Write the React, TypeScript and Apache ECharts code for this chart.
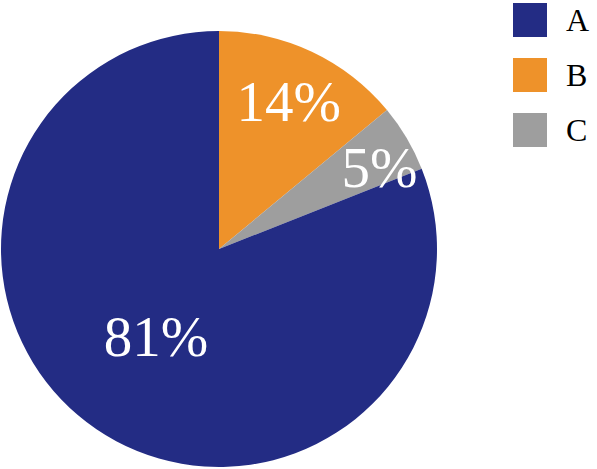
import React, { useEffect, useRef } from "react";
import * as echarts from "echarts";

const categories = ["B", "C", "A"];
const values = [14, 5, 81];
const legendOrder = ["A", "B", "C"];
const colors: Record<string, string> = { A: "#232C84", B: "#EE922A", C: "#9E9E9E" };
const labelOffsets: Record<string, number[]> = { B: [22, -46], C: [64, -24], A: [0, -5] };
const serif = "'Liberation Serif', 'Times New Roman', serif";

export default function App() {
  const ref = useRef<HTMLDivElement>(null);
  useEffect(() => {
    document.body.style.margin = "0";
    const chart = echarts.init(ref.current!, undefined, { renderer: "svg" });
    chart.setOption({
      animation: false,
      backgroundColor: "#ffffff",
      legend: {
        data: legendOrder,
        orient: "vertical",
        left: 513,
        top: 3,
        padding: 0,
        itemWidth: 34,
        itemHeight: 34,
        itemGap: 21,
        icon: "rect",
        selectedMode: false,
        textStyle: {
          fontFamily: serif,
          fontSize: 32,
          color: "#000",
          padding: [0, 0, 0, 14],
        },
      },
      series: [
        {
          type: "pie",
          center: [219, 249],
          radius: 218,
          startAngle: 90,
          clockwise: true,
          avoidLabelOverlap: false,
          emphasis: { disabled: true },
          itemStyle: { borderWidth: 0 },
          labelLine: { show: false },
          data: categories.map((c, i) => ({
            name: c,
            value: values[i],
            itemStyle: { color: colors[c] },
            label: { offset: labelOffsets[c] },
          })),
          label: {
            show: true,
            position: "inside",
            formatter: (p: any) => `${p.value}%`,
            color: "#fff",
            fontFamily: serif,
            fontSize: 57,
          },
        },
      ],
    });
    return () => chart.dispose();
  }, []);
  return <div ref={ref} style={{ width: 597, height: 469 }} />;
}
